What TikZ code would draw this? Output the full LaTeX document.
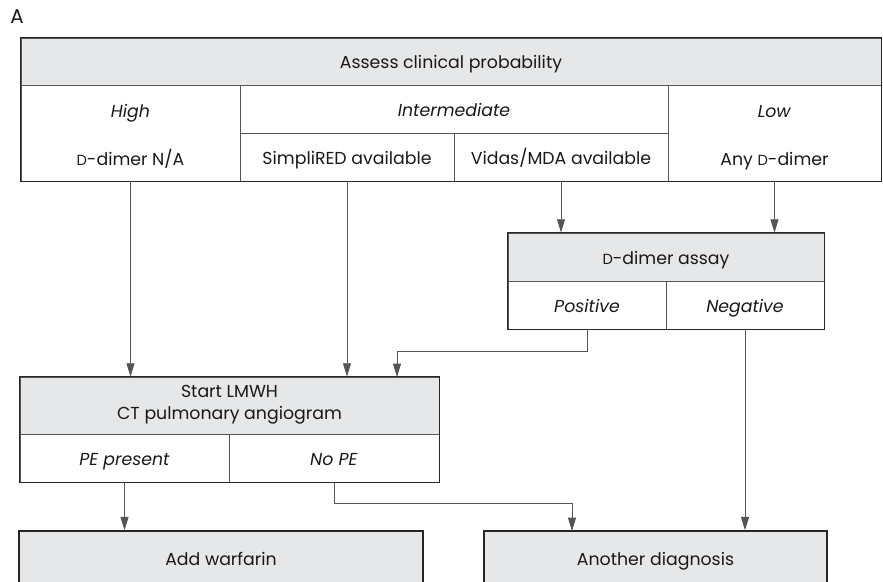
\documentclass[tikz,border=0pt]{standalone}
\usepackage{fontspec}
\setmainfont{Poppins}
\usetikzlibrary{arrows.meta}
\definecolor{headgray}{RGB}{230,231,232}
\definecolor{linegray}{RGB}{85,85,85}
\newcommand{\capD}{{\fontsize{12.5}{14}\selectfont D}}
\begin{document}
\begin{tikzpicture}[x=0.03cm, y=-0.03cm, font=\fontsize{14.8}{18.5}\selectfont,
	cell/.style 2 args={draw=linegray, line width=0.7pt, text=black!90, shape=rectangle, inner sep=0pt, align=center, minimum width=#1*0.03cm, minimum height=#2*0.03cm, execute at begin node={\rule{0pt}{18pt}}, execute at end node=\strut},
	headcell/.style 2 args={cell={#1}{#2}, fill=headgray},
	frame/.style={draw=black!85, line width=1.2pt},
	arr/.style={draw=linegray, line width=0.7pt, -{Triangle[length=4mm, width=2.4mm]}}]
	\useasboundingbox (0,0) rectangle (883,582);
	\clip (0,0) rectangle (883,582);
	\node[text=black!90, font=\fontsize{17}{20}\selectfont] (lbl_a) at (17,17) {A};

	\node[headcell={860}{47}] (p_head) at (451,61.5) {Assess clinical probability};
	\node[cell={219}{96}] (p_high) at (130.5,133) {\rule{0pt}{20.5pt}\textit{High}\\[22.3pt]\capD-dimer N/A};
	\node[cell={428}{48}] (p_inter) at (454,109) {\textit{Intermediate}};
	\node[cell={214}{48}] (p_simpli) at (347,157) {SimpliRED available};
	\node[cell={214}{48}] (p_vidas) at (561,157) {Vidas/MDA available};
	\node[cell={213}{96}] (p_low) at (774.5,133) {\rule{0pt}{20.5pt}\textit{Low}\\[22.3pt]Any \capD-dimer};
	\draw[frame] (p_head.north west) rectangle (p_low.south east);

	\node[headcell={316}{48}] (d_head) at (666,257) {\capD-dimer assay};
	\node[cell={158}{48}] (d_pos) at (587,305) {\textit{Positive}};
	\node[cell={158}{48}] (d_neg) at (745,305) {\textit{Negative}};
	\draw[frame] (d_head.north west) rectangle (d_neg.south east);

	\node[headcell={419}{57}] (t_head) at (229.5,405.5) {Start LMWH\\CT pulmonary angiogram};
	\node[cell={209}{48}] (t_pe) at (124.5,458) {\textit{PE present}};
	\node[cell={210}{48}] (t_nope) at (334,458) {\textit{No PE}};
	\draw[frame] (t_head.north west) rectangle (t_nope.south east);

	\node[headcell={404}{55}, frame] (r_warf) at (221,558.5) {Add warfarin};
	\node[headcell={343}{55}, frame] (r_diag) at (655.5,558.5) {Another diagnosis};

	\coordinate (t_in) at (397,377);
	\coordinate (r_in) at (572,531);

	\draw[arr] (p_high.south) -- (p_high.south |- t_head.north);
	\draw[arr] (p_simpli.south) -- (p_simpli.south |- t_head.north);
	\draw[arr] (p_vidas.south) -- (p_vidas.south |- d_head.north);
	\draw[arr] (p_low.south) -- (p_low.south |- d_head.north);
	\draw[arr] (d_pos.south) -- ++(0,22) -| (t_in);
	\draw[arr] (d_neg.south) -- (d_neg.south |- r_diag.north);
	\draw[arr] (t_pe.south) -- (t_pe.south |- r_warf.north);
	\draw[arr] (t_nope.south) -- ++(0,21) -| (r_in);
\end{tikzpicture}
\end{document}
